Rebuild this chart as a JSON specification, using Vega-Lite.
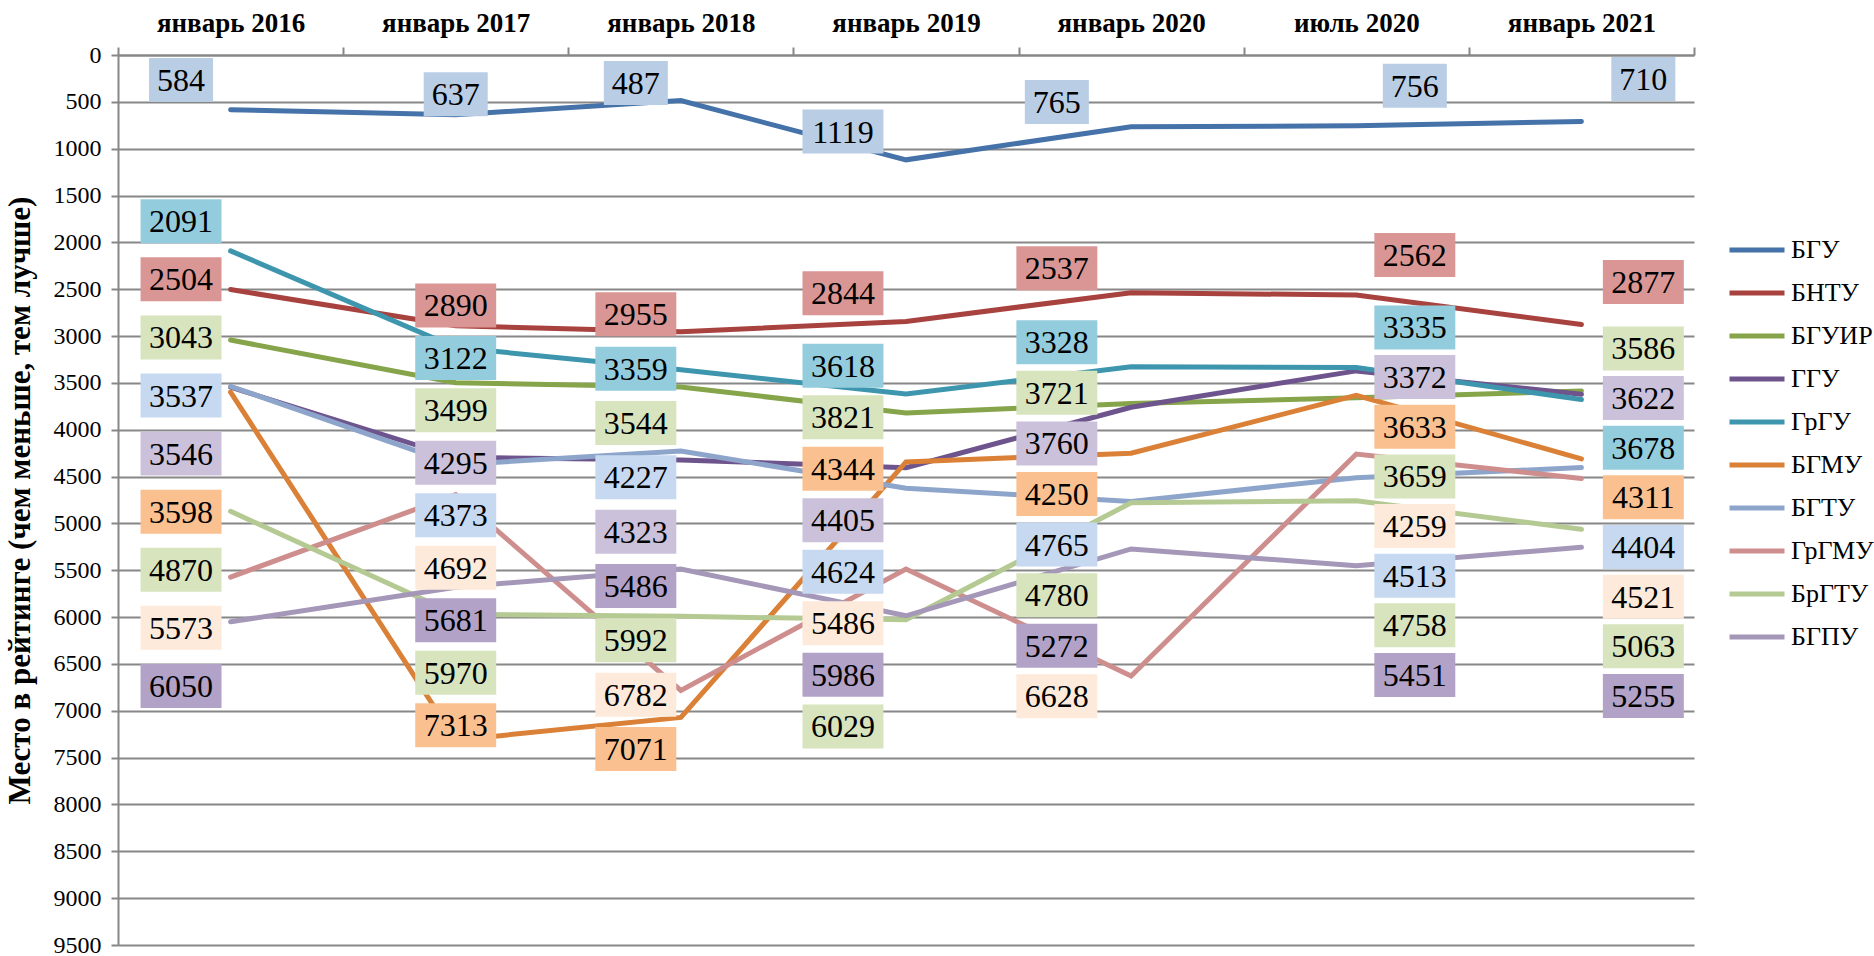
{
  "$schema": "https://vega.github.io/schema/vega-lite/v6.json",
  "width": 1576,
  "height": 890,
  "autosize": "none",
  "padding": {"left": 118, "top": 55, "right": 180, "bottom": 11},
  "background": "white",
  "config": {"view": {"stroke": null}, "font": "Liberation Serif"},
  "data": {"values": [
    {"u": "БГУ", "d": "январь 2016", "r": 584},
    {"u": "БГУ", "d": "январь 2017", "r": 637},
    {"u": "БГУ", "d": "январь 2018", "r": 487},
    {"u": "БГУ", "d": "январь 2019", "r": 1119},
    {"u": "БГУ", "d": "январь 2020", "r": 765},
    {"u": "БГУ", "d": "июль 2020", "r": 756},
    {"u": "БГУ", "d": "январь 2021", "r": 710},
    {"u": "БНТУ", "d": "январь 2016", "r": 2504},
    {"u": "БНТУ", "d": "январь 2017", "r": 2890},
    {"u": "БНТУ", "d": "январь 2018", "r": 2955},
    {"u": "БНТУ", "d": "январь 2019", "r": 2844},
    {"u": "БНТУ", "d": "январь 2020", "r": 2537},
    {"u": "БНТУ", "d": "июль 2020", "r": 2562},
    {"u": "БНТУ", "d": "январь 2021", "r": 2877},
    {"u": "БГУИР", "d": "январь 2016", "r": 3043},
    {"u": "БГУИР", "d": "январь 2017", "r": 3499},
    {"u": "БГУИР", "d": "январь 2018", "r": 3544},
    {"u": "БГУИР", "d": "январь 2019", "r": 3821},
    {"u": "БГУИР", "d": "январь 2020", "r": 3721},
    {"u": "БГУИР", "d": "июль 2020", "r": 3659},
    {"u": "БГУИР", "d": "январь 2021", "r": 3586},
    {"u": "ГГУ", "d": "январь 2016", "r": 3546},
    {"u": "ГГУ", "d": "январь 2017", "r": 4295},
    {"u": "ГГУ", "d": "январь 2018", "r": 4323},
    {"u": "ГГУ", "d": "январь 2019", "r": 4405},
    {"u": "ГГУ", "d": "январь 2020", "r": 3760},
    {"u": "ГГУ", "d": "июль 2020", "r": 3372},
    {"u": "ГГУ", "d": "январь 2021", "r": 3622},
    {"u": "ГрГУ", "d": "январь 2016", "r": 2091},
    {"u": "ГрГУ", "d": "январь 2017", "r": 3122},
    {"u": "ГрГУ", "d": "январь 2018", "r": 3359},
    {"u": "ГрГУ", "d": "январь 2019", "r": 3618},
    {"u": "ГрГУ", "d": "январь 2020", "r": 3328},
    {"u": "ГрГУ", "d": "июль 2020", "r": 3335},
    {"u": "ГрГУ", "d": "январь 2021", "r": 3678},
    {"u": "БГМУ", "d": "январь 2016", "r": 3598},
    {"u": "БГМУ", "d": "январь 2017", "r": 7313},
    {"u": "БГМУ", "d": "январь 2018", "r": 7071},
    {"u": "БГМУ", "d": "январь 2019", "r": 4344},
    {"u": "БГМУ", "d": "январь 2020", "r": 4250},
    {"u": "БГМУ", "d": "июль 2020", "r": 3633},
    {"u": "БГМУ", "d": "январь 2021", "r": 4311},
    {"u": "БГТУ", "d": "январь 2016", "r": 3537},
    {"u": "БГТУ", "d": "январь 2017", "r": 4373},
    {"u": "БГТУ", "d": "январь 2018", "r": 4227},
    {"u": "БГТУ", "d": "январь 2019", "r": 4624},
    {"u": "БГТУ", "d": "январь 2020", "r": 4765},
    {"u": "БГТУ", "d": "июль 2020", "r": 4513},
    {"u": "БГТУ", "d": "январь 2021", "r": 4404},
    {"u": "ГрГМУ", "d": "январь 2016", "r": 5573},
    {"u": "ГрГМУ", "d": "январь 2017", "r": 4692},
    {"u": "ГрГМУ", "d": "январь 2018", "r": 6782},
    {"u": "ГрГМУ", "d": "январь 2019", "r": 5486},
    {"u": "ГрГМУ", "d": "январь 2020", "r": 6628},
    {"u": "ГрГМУ", "d": "июль 2020", "r": 4259},
    {"u": "ГрГМУ", "d": "январь 2021", "r": 4521},
    {"u": "БрГТУ", "d": "январь 2016", "r": 4870},
    {"u": "БрГТУ", "d": "январь 2017", "r": 5970},
    {"u": "БрГТУ", "d": "январь 2018", "r": 5992},
    {"u": "БрГТУ", "d": "январь 2019", "r": 6029},
    {"u": "БрГТУ", "d": "январь 2020", "r": 4780},
    {"u": "БрГТУ", "d": "июль 2020", "r": 4758},
    {"u": "БрГТУ", "d": "январь 2021", "r": 5063},
    {"u": "БГПУ", "d": "январь 2016", "r": 6050},
    {"u": "БГПУ", "d": "январь 2017", "r": 5681},
    {"u": "БГПУ", "d": "январь 2018", "r": 5486},
    {"u": "БГПУ", "d": "январь 2019", "r": 5986},
    {"u": "БГПУ", "d": "январь 2020", "r": 5272},
    {"u": "БГПУ", "d": "июль 2020", "r": 5451},
    {"u": "БГПУ", "d": "январь 2021", "r": 5255}
  ]},
  "transform": [
    {"calculate": "indexof(['январь 2016','январь 2017','январь 2018','январь 2019','январь 2020','июль 2020','январь 2021'], datum.d)", "as": "t"},
    {"calculate": "datum.t + [-0.22, 0, -0.2, -0.28, -0.33, 0.26, 0.275][datum.t]", "as": "lx"},
    {"calculate": "[620, 560, 580, 550, 540, 530, 530][datum.t]", "as": "sp"},
    {"window": [{"op": "row_number", "as": "idx"}], "groupby": ["d"], "sort": [{"field": "r", "order": "ascending"}]},
    {"calculate": "datum.r - (datum.idx - 1) * datum.sp", "as": "a"},
    {"window": [{"op": "max", "field": "a", "as": "cm"}], "groupby": ["d"], "sort": [{"field": "r", "order": "ascending"}], "frame": [null, 0]},
    {"calculate": "(datum.idx - 1) * datum.sp + datum.cm", "as": "pd"},
    {"joinaggregate": [{"op": "mean", "field": "pd", "as": "mpd"}, {"op": "mean", "field": "r", "as": "mr"}], "groupby": ["d"]},
    {"calculate": "datum.pd - 0.5 * (datum.mpd - datum.mr)", "as": "ly"},
    {"calculate": "length(toString(datum.r))", "as": "nd"}
  ],
  "layer": [
    {
      "mark": {"type": "line", "strokeWidth": 5, "strokeCap": "round", "strokeJoin": "miter"},
      "encoding": {
        "x": {"field": "t", "type": "quantitative",
          "scale": {"domain": [-0.5, 6.5], "nice": false, "zero": false},
          "axis": {"orient": "top", "values": [0, 1, 2, 3, 4, 5, 6],
            "labelExpr": "['январь 2016','январь 2017','январь 2018','январь 2019','январь 2020','июль 2020','январь 2021'][datum.value]",
            "ticks": false, "grid": false, "domain": true, "domainColor": "#878787", "domainWidth": 2,
            "labelFont": "Liberation Serif", "labelFontSize": 27, "labelFontWeight": "bold", "labelColor": "black",
            "labelPadding": 18, "title": null}},
        "y": {"field": "r", "type": "quantitative",
          "scale": {"domain": [0, 9500], "reverse": true, "nice": false, "zero": false},
          "axis": {"values": [0, 500, 1000, 1500, 2000, 2500, 3000, 3500, 4000, 4500, 5000, 5500, 6000, 6500, 7000, 7500, 8000, 8500, 9000, 9500],
            "format": "d", "grid": true, "gridColor": "#878787", "gridWidth": 2,
            "domainColor": "#878787", "domainWidth": 2, "tickColor": "#878787", "tickWidth": 2, "tickSize": 7,
            "labelFont": "Liberation Serif", "labelFontSize": 24, "labelColor": "black", "labelPadding": 10,
            "title": "Место в рейтинге (чем меньше, тем лучше)", "titleFont": "Liberation Serif", "titleFontSize": 31,
            "titleFontWeight": "bold", "titleColor": "black", "titlePadding": 17}},
        "color": {"field": "u", "type": "nominal",
          "scale": {"domain": ["БГУ", "БНТУ", "БГУИР", "ГГУ", "ГрГУ", "БГМУ", "БГТУ", "ГрГМУ", "БрГТУ", "БГПУ"],
            "range": ["#4572A8", "#A8423F", "#86A44A", "#6E548D", "#3D96AE", "#DA8137", "#8EA5CB", "#CE8E8D", "#B5CA92", "#A497B8"]},
          "legend": {"orient": "none", "legendX": 1609, "legendY": 165, "title": null,
            "labelFont": "Liberation Serif", "labelFontSize": 26, "labelFontWeight": "normal", "labelColor": "black",
            "symbolType": "stroke", "symbolSize": 3025, "symbolStrokeWidth": 5,
            "rowPadding": -2, "labelOffset": 4, "padding": 0, "symbolOffset": 0}}
      }
    },
    {
      "mark": {"type": "point", "filled": true, "opacity": 1, "size": 1936, "strokeWidth": 0},
      "encoding": {
        "x": {"field": "lx", "type": "quantitative",
          "axis": {"orient": "top", "values": [-0.5, 0.5, 1.5, 2.5, 3.5, 4.5, 5.5, 6.5], "labels": false, "ticks": true,
            "tickSize": 8, "tickColor": "#878787", "tickWidth": 2, "domain": false, "grid": false, "title": null}},
        "y": {"field": "ly", "type": "quantitative", "axis": null},
        "fill": {"field": "u", "type": "nominal",
          "scale": {"domain": ["БГУ", "БНТУ", "БГУИР", "ГГУ", "ГрГУ", "БГМУ", "БГТУ", "ГрГМУ", "БрГТУ", "БГПУ"],
            "range": ["#B9CDE5", "#DA9694", "#D7E4BD", "#CCC1DA", "#93CDDD", "#FAC090", "#C6D9F1", "#FDEADA", "#D7E4BD", "#B3A2C7"]},
          "legend": null},
        "shape": {"field": "nd", "type": "nominal",
          "scale": {"domain": [3, 4], "range": ["M-1.455,-1H1.455V1H-1.455Z", "M-1.84,-1H1.84V1H-1.84Z"]},
          "legend": null}
      }
    },
    {
      "mark": {"type": "text", "font": "Liberation Serif", "fontSize": 32, "color": "black", "align": "center", "baseline": "middle", "dy": 1},
      "encoding": {
        "x": {"field": "lx", "type": "quantitative", "axis": null},
        "y": {"field": "ly", "type": "quantitative", "axis": null},
        "text": {"field": "r", "type": "quantitative", "format": "d"}
      }
    }
  ],
  "resolve": {"axis": {"x": "independent", "y": "independent"}}
}
